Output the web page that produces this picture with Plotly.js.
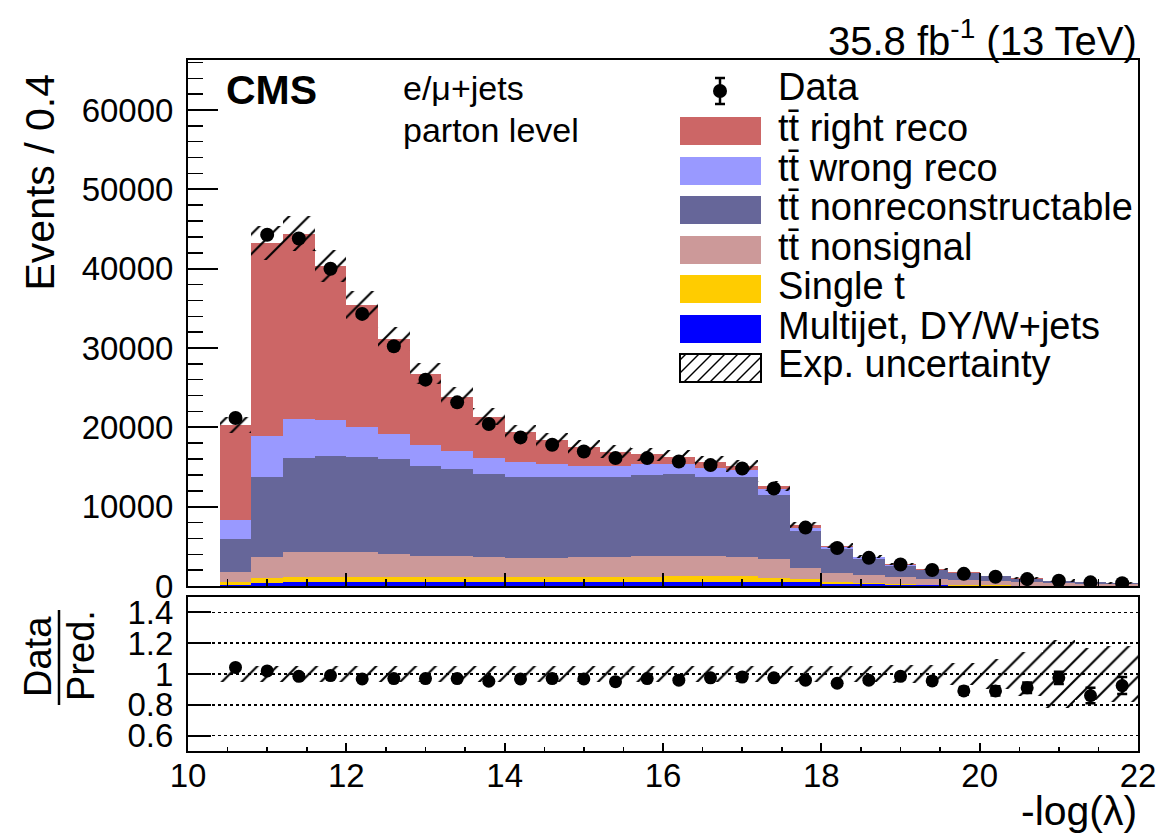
<!DOCTYPE html>
<html><head><meta charset="utf-8">
<script src="https://cdn.plot.ly/plotly-3.0.1.min.js"></script>
<style>html,body{margin:0;padding:0;background:#fff}#chart{width:1167px;height:837px}</style>
</head><body><div id="chart"></div>
<script>
// ---- data ----
const binCenters = [10.6,11.0,11.4,11.8,12.2,12.6,13.0,13.4,13.8,14.2,14.6,15.0,15.4,15.8,16.2,16.6,17.0,17.4,17.8,18.2,18.6,19.0,19.4,19.8,20.2,20.6,21.0,21.4,21.8];
const binWidth = 0.4;
const multijet    = [150,400,450,450,450,450,450,460,470,480,490,500,510,520,540,550,550,500,450,300,200,130,90,60,40,30,20,15,10];
const singleTop   = [300,600,700,700,700,680,660,650,640,630,630,640,650,660,700,700,680,550,450,250,150,100,70,50,30,30,20,15,10];
const ttNonsignal = [1360,2700,3140,3140,3080,2910,2680,2680,2510,2430,2420,2480,2540,2610,2550,2540,2470,2320,1400,1090,990,900,760,600,520,400,340,260,190];
const ttNonreco   = [4080,10060,11790,12120,12060,11910,11320,10900,10560,10260,10180,10060,10060,10140,10310,10010,9980,8120,4670,3040,2110,1440,1070,910,630,440,255,210,147];
const ttWrongReco = [2400,5100,5010,4550,3700,3240,2690,2360,1940,1770,1680,1470,1390,1430,1260,1060,970,720,370,250,150,110,80,60,50,40,30,20,15];
const ttRightReco = [12040,24410,23310,19360,15400,11960,8970,6810,5220,3790,2990,2400,1770,1260,930,800,500,420,340,170,100,70,50,40,30,20,15,10,8];
const dataEvents  = [21170,44280,43810,39980,34300,30220,26010,23150,20410,18730,17800,16960,16120,16120,15700,15240,14810,12290,7360,4790,3550,2710,2020,1530,1160,870,660,460,350];
const dataRatio   = [1.043,1.02,0.985,0.99,0.968,0.97,0.97,0.97,0.953,0.968,0.97,0.968,0.95,0.97,0.96,0.975,0.98,0.975,0.96,0.94,0.96,0.985,0.955,0.89,0.89,0.91,0.975,0.86,0.925];
const ratioErr    = [0.007,0.005,0.005,0.005,0.006,0.006,0.006,0.007,0.007,0.007,0.008,0.008,0.008,0.008,0.008,0.008,0.008,0.009,0.012,0.015,0.017,0.02,0.022,0.025,0.03,0.034,0.04,0.05,0.055];
const relUnc      = [0.05,0.05,0.05,0.05,0.05,0.05,0.05,0.05,0.05,0.05,0.05,0.05,0.05,0.05,0.05,0.05,0.05,0.05,0.05,0.055,0.055,0.06,0.06,0.07,0.1,0.14,0.22,0.17,0.18];

const FONT = 'Liberation Sans, Arial, Helvetica, sans-serif';
const comps = [
  {name:'Multijet, DY/W+jets', y:multijet, color:'#0000FF'},
  {name:'Single t', y:singleTop, color:'#FFCC00'},
  {name:'tt\u0304 nonsignal', y:ttNonsignal, color:'#CC9999'},
  {name:'tt\u0304 nonreconstructable', y:ttNonreco, color:'#666699'},
  {name:'tt\u0304 wrong reco', y:ttWrongReco, color:'#9999FF'},
  {name:'tt\u0304 right reco', y:ttRightReco, color:'#CC6666'}
];

const traces = [];
let cum = binCenters.map(() => 0);
comps.forEach(c => {
  traces.push({type:'bar', x:binCenters, y:c.y, base:cum.slice(), width:binWidth,
    marker:{color:c.color, line:{width:0}}, name:c.name, showlegend:false,
    hoverinfo:'skip', xaxis:'x', yaxis:'y'});
  cum = cum.map((v,i) => v + c.y[i]);
});
const total = cum;
const hatch = {shape:'/', fgcolor:'black', bgcolor:'rgba(0,0,0,0)', size:14, solidity:0.15, fillmode:'replace'};
traces.push({type:'bar', x:binCenters, y:total.map((t,i)=>2*t*relUnc[i]), base:total.map((t,i)=>t*(1-relUnc[i])),
  width:binWidth, marker:{color:'rgba(0,0,0,0)', line:{width:0}, pattern:hatch},
  name:'Exp. uncertainty', showlegend:false, hoverinfo:'skip', xaxis:'x', yaxis:'y'});
traces.push({type:'scatter', mode:'markers', x:binCenters, y:dataEvents, name:'Data',
  marker:{color:'black', size:14}, showlegend:false, xaxis:'x', yaxis:'y'});
// ratio panel
traces.push({type:'bar', x:binCenters, y:relUnc.map(u=>2*u), base:relUnc.map(u=>1-u),
  width:binWidth, marker:{color:'rgba(0,0,0,0)', line:{width:0}, pattern:hatch},
  showlegend:false, hoverinfo:'skip', xaxis:'x2', yaxis:'y2'});
traces.push({type:'scatter', mode:'markers', x:binCenters, y:dataRatio,
  error_y:{type:'data', array:ratioErr, color:'black', thickness:2.5, width:5},
  marker:{color:'black', size:13}, showlegend:false, xaxis:'x2', yaxis:'y2'});

// pixel -> paper helpers (plot area: x 188..1138, y 60..751)
const L=188, R=1138, T=60, B=751;
const px = v => (v-L)/(R-L);
const py = v => (B-v)/(B-T);

const shapes = [];
const annotations = [];
function txt(text, x, y, size, opts) {
  annotations.push(Object.assign({text:text, xref:'paper', yref:'paper', x:px(x), y:py(y),
    showarrow:false, font:{family:FONT, size:size, color:'black'}, xanchor:'left', yanchor:'middle'}, opts||{}));
}
// legend
const legRows = [
  {label:'tt\u0304 right reco', color:'#CC6666', yc:131},
  {label:'tt\u0304 wrong reco', color:'#9999FF', yc:171},
  {label:'tt\u0304 nonreconstructable', color:'#666699', yc:210},
  {label:'tt\u0304 nonsignal', color:'#CC9999', yc:250},
  {label:'Single t', color:'#FFCC00', yc:289},
  {label:'Multijet, DY/W+jets', color:'#0000FF', yc:329}
];
const bx0=680, bx1=761, bh=28;
legRows.forEach(r => {
  shapes.push({type:'rect', xref:'paper', yref:'paper', x0:px(bx0), x1:px(bx1), y0:py(r.yc-bh/2), y1:py(r.yc+bh/2),
    fillcolor:r.color, line:{width:0}});
  txt(r.label, 776, r.yc-3, 38);
});
// Data legend entry
shapes.push({type:'line', xref:'paper', yref:'paper', x0:px(720), x1:px(720), y0:py(78), y1:py(104), line:{color:'black', width:2.5}});
shapes.push({type:'line', xref:'paper', yref:'paper', x0:px(715), x1:px(725), y0:py(78), y1:py(78), line:{color:'black', width:2.5}});
shapes.push({type:'line', xref:'paper', yref:'paper', x0:px(715), x1:px(725), y0:py(104), y1:py(104), line:{color:'black', width:2.5}});
shapes.push({type:'circle', xref:'paper', yref:'paper', x0:px(713), x1:px(727), y0:py(98), y1:py(84), fillcolor:'black', line:{width:0}});
txt('Data', 776, 87, 38);
// Exp. uncertainty legend entry (hatched box)
const hy=368, hy0=hy-bh/2, hy1=hy+bh/2;
shapes.push({type:'rect', xref:'paper', yref:'paper', x0:px(bx0), x1:px(bx1), y0:py(hy0), y1:py(hy1), fillcolor:'white', line:{color:'black', width:2}});
for (let s = bx0 - bh + 6; s < bx1; s += 13) {
  let xa = s, ya = hy1, xb = s + bh, yb = hy0;
  if (xa < bx0) { ya = hy1 - (bx0 - xa); xa = bx0; }
  if (xb > bx1) { yb = hy0 + (xb - bx1); xb = bx1; }
  if (xb > xa) shapes.push({type:'line', xref:'paper', yref:'paper', x0:px(xa), x1:px(xb), y0:py(ya), y1:py(yb), line:{color:'black', width:1.5}});
}
txt('Exp. uncertainty', 776, hy-4, 38);
// labels
txt('<b>CMS</b>', 224, 90, 41);
txt('e/\u03bc+jets', 401, 88, 34);
txt('parton level', 401, 130, 34);
txt('35.8 fb<sup>-1</sup> (13 TeV)', 1139, 38, 40, {xanchor:'right'});
txt('-log(\u03bb)', 1139, 811, 41, {xanchor:'right'});
txt('Events / 0.4', 39, 72, 41, {xanchor:'center', yanchor:'top', textangle:-90});
txt('Data', 38, 657, 38, {xanchor:'center', textangle:-90});
txt('Pred.', 81, 656, 38, {xanchor:'center', textangle:-90});
shapes.push({type:'line', xref:'paper', yref:'paper', x0:px(59), x1:px(59), y0:py(610), y1:py(705), line:{color:'black', width:2.5}});

const mainBottom = py(586), ratioTop = py(597);
const axBase = {showline:true, mirror:true, linecolor:'black', linewidth:2, zeroline:false, showgrid:false,
  ticks:'inside', tickcolor:'black', tickwidth:2, tickfont:{family:FONT, size:33, color:'black'}};
const layout = {
  width:1167, height:837, margin:{l:L, r:1167-R, t:T, b:837-B},
  paper_bgcolor:'white', plot_bgcolor:'white', barmode:'overlay', bargap:0, showlegend:false,
  font:{family:FONT, color:'black'},
  xaxis: Object.assign({}, axBase, {range:[10,22], anchor:'y', dtick:2, tick0:10, ticklen:13, showticklabels:false,
    minor:{dtick:0.5, ticklen:7, ticks:'inside', tickcolor:'black', tickwidth:1.5, showgrid:false}}),
  yaxis: Object.assign({}, axBase, {range:[0,66300], domain:[mainBottom,1], anchor:'x', dtick:10000, tick0:0, ticklen:30,
    tickformat:'d', ticklabelstandoff:6,
    minor:{dtick:2000, ticklen:15, ticks:'inside', tickcolor:'black', tickwidth:1.5, showgrid:false}}),
  xaxis2: Object.assign({}, axBase, {range:[10,22], anchor:'y2', dtick:2, tick0:10, ticklen:8, ticklabelstandoff:-6,
    minor:{dtick:0.5, ticklen:4, ticks:'inside', tickcolor:'black', tickwidth:1.5, showgrid:false}}),
  yaxis2: Object.assign({}, axBase, {range:[0.5,1.5], domain:[0,ratioTop], anchor:'x2',
    tickvals:[0.6,0.8,1,1.2,1.4], ticktext:['0.6','0.8','1','1.2','1.4'], ticklen:23, ticklabelstandoff:6,
    showgrid:true, gridcolor:'black', gridwidth:1.5, griddash:'dot'}),
  shapes:shapes, annotations:annotations
};
Plotly.newPlot('chart', traces, layout, {displayModeBar:false, staticPlot:true});
</script></body></html>
